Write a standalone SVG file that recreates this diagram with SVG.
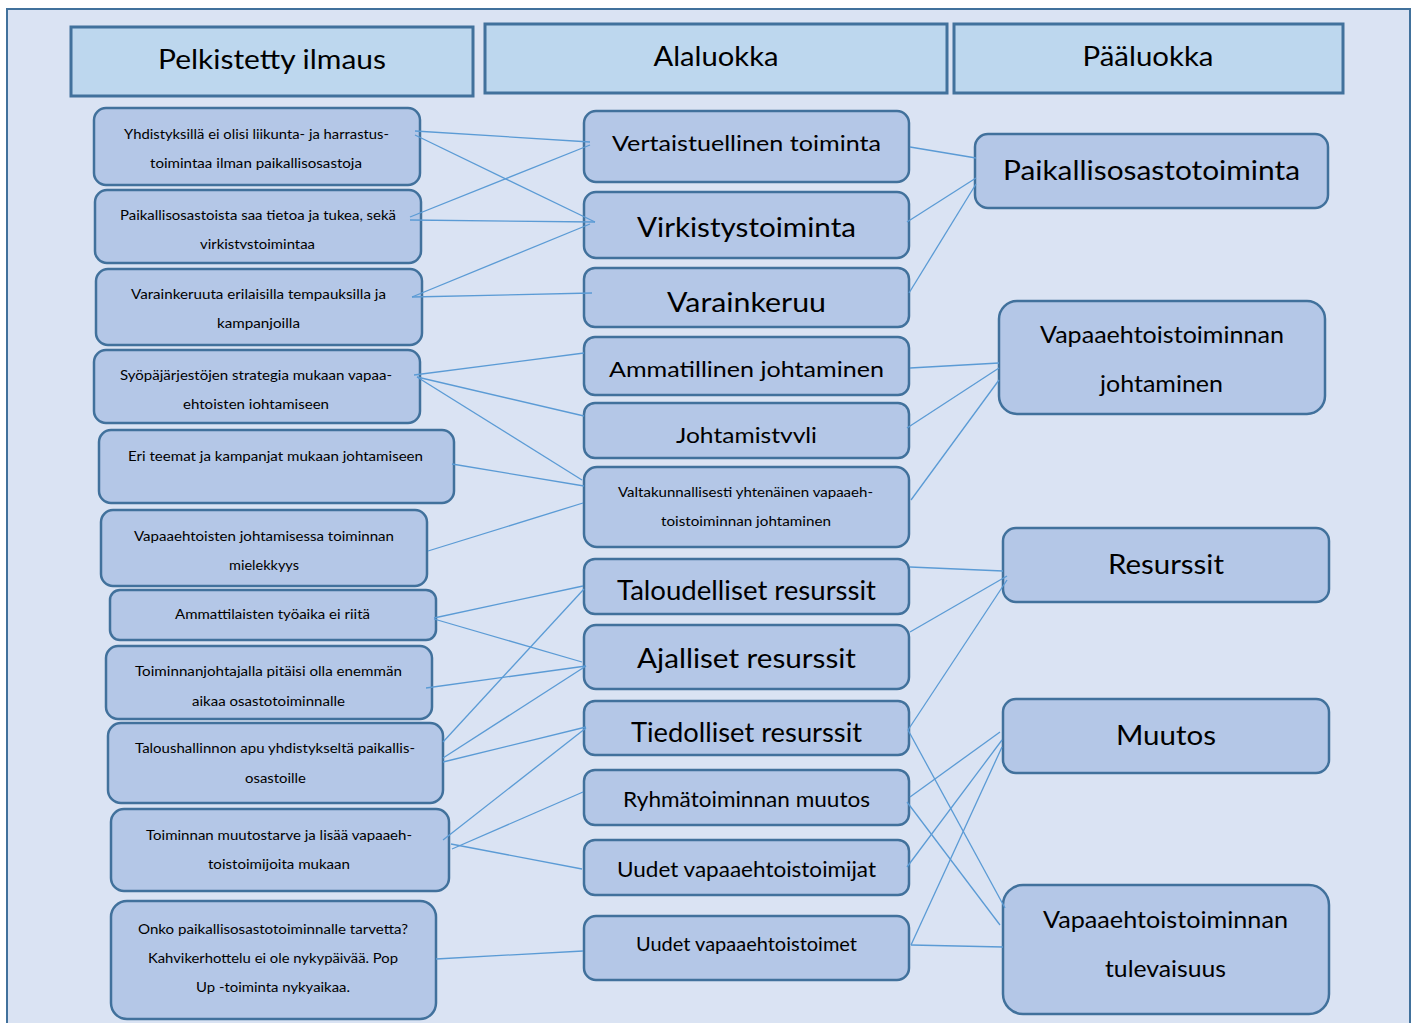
<svg xmlns="http://www.w3.org/2000/svg" width="1416" height="1023" viewBox="0 0 1416 1023">
<style>
text{font-family:"Lato","Open Sans","Liberation Sans",sans-serif;fill:#000;text-anchor:middle}
.hdr{fill:#bdd7ee;stroke:#41719c;stroke-width:3}
.nd{fill:#b4c7e7;stroke:#41719c;stroke-width:2.5}
.s{font-size:13.5px}
.m{font-size:22px}
.l{font-size:27px}
.h{font-size:27px}
#connectors line{stroke:#5b9bd5;stroke-width:1.3;fill:none}
</style>
<defs>
<clipPath id="c2"><rect x="95" y="190" width="326" height="59"/></clipPath>
<clipPath id="c4"><rect x="94" y="350" width="326" height="59"/></clipPath>
<clipPath id="c5"><rect x="584" y="403" width="325" height="40"/></clipPath>
</defs>
<rect x="7" y="9" width="1403" height="1030" fill="#dae3f3" stroke="#41719c" stroke-width="2"/>
<g id="header-pelkistetty"><rect class="hdr" x="71" y="27" width="402" height="69"/><text class="h" x="272" y="69" textLength="228" lengthAdjust="spacingAndGlyphs">Pelkistetty ilmaus</text></g>
<g id="header-alaluokka"><rect class="hdr" x="485" y="24" width="462" height="69"/><text class="h" x="716" y="66" textLength="125" lengthAdjust="spacingAndGlyphs">Alaluokka</text></g>
<g id="header-paaluokka"><rect class="hdr" x="954" y="24" width="389" height="69"/><text class="h" x="1148" y="66" textLength="131" lengthAdjust="spacingAndGlyphs">Pääluokka</text></g>

<g id="l1"><rect class="nd" x="94" y="108" width="326" height="77" rx="12"/><text class="s" x="256.5" y="139" textLength="265" lengthAdjust="spacingAndGlyphs">Yhdistyksillä ei olisi liikunta- ja harrastus-</text><text class="s" x="256" y="168" textLength="212" lengthAdjust="spacingAndGlyphs">toimintaa ilman paikallisosastoja</text></g>
<g id="l2"><rect class="nd" x="95" y="190" width="326" height="73" rx="12"/><text class="s" x="258" y="220" textLength="276" lengthAdjust="spacingAndGlyphs">Paikallisosastoista saa tietoa ja tukea, sekä</text><text class="s" x="257.5" y="249" textLength="115" lengthAdjust="spacingAndGlyphs" clip-path="url(#c2)">virkistystoimintaa</text></g>
<g id="l3"><rect class="nd" x="96" y="269" width="326" height="76" rx="12"/><text class="s" x="258.5" y="299" textLength="255" lengthAdjust="spacingAndGlyphs">Varainkeruuta erilaisilla tempauksilla ja</text><text class="s" x="258.5" y="328" textLength="83" lengthAdjust="spacingAndGlyphs">kampanjoilla</text></g>
<g id="l4"><rect class="nd" x="94" y="350" width="326" height="73" rx="12"/><text class="s" x="256" y="380" textLength="272" lengthAdjust="spacingAndGlyphs">Syöpäjärjestöjen strategia mukaan vapaa-</text><text class="s" x="256" y="409" textLength="146" lengthAdjust="spacingAndGlyphs" clip-path="url(#c4)">ehtoisten johtamiseen</text></g>
<g id="l5"><rect class="nd" x="99" y="430" width="355" height="73" rx="12"/><text class="s" x="275.5" y="461" textLength="295" lengthAdjust="spacingAndGlyphs">Eri teemat ja kampanjat mukaan johtamiseen</text></g>
<g id="l6"><rect class="nd" x="101" y="510" width="326" height="76" rx="12"/><text class="s" x="264" y="541" textLength="260" lengthAdjust="spacingAndGlyphs">Vapaaehtoisten johtamisessa toiminnan</text><text class="s" x="264" y="570" textLength="70" lengthAdjust="spacingAndGlyphs">mielekkyys</text></g>
<g id="l7"><rect class="nd" x="110" y="590" width="326" height="50" rx="10"/><text class="s" x="272.5" y="619" textLength="195" lengthAdjust="spacingAndGlyphs">Ammattilaisten työaika ei riitä</text></g>
<g id="l8"><rect class="nd" x="106" y="646" width="326" height="73" rx="12"/><text class="s" x="268.5" y="676" textLength="267" lengthAdjust="spacingAndGlyphs">Toiminnanjohtajalla pitäisi olla enemmän</text><text class="s" x="268.5" y="706" textLength="153" lengthAdjust="spacingAndGlyphs">aikaa osastotoiminnalle</text></g>
<g id="l9"><rect class="nd" x="108" y="723" width="335" height="80" rx="13"/><text class="s" x="275" y="753" textLength="280" lengthAdjust="spacingAndGlyphs">Taloushallinnon apu yhdistykseltä paikallis-</text><text class="s" x="275.5" y="783" textLength="61" lengthAdjust="spacingAndGlyphs">osastoille</text></g>
<g id="l10"><rect class="nd" x="111" y="809" width="338" height="82" rx="13"/><text class="s" x="279" y="840" textLength="266" lengthAdjust="spacingAndGlyphs">Toiminnan muutostarve ja lisää vapaaeh-</text><text class="s" x="279" y="869" textLength="142" lengthAdjust="spacingAndGlyphs">toistoimijoita mukaan</text></g>
<g id="l11"><rect class="nd" x="111" y="901" width="325" height="118" rx="16"/><text class="s" x="273" y="934" textLength="270" lengthAdjust="spacingAndGlyphs">Onko paikallisosastotoiminnalle tarvetta?</text><text class="s" x="273" y="963" textLength="250" lengthAdjust="spacingAndGlyphs">Kahvikerhottelu ei ole nykypäivää. Pop</text><text class="s" x="273" y="992" textLength="154" lengthAdjust="spacingAndGlyphs">Up -toiminta nykyaikaa.</text></g>

<g id="m1"><rect class="nd" x="584" y="111" width="325" height="71" rx="12"/><text class="m" x="746.5" y="151" textLength="269" lengthAdjust="spacingAndGlyphs">Vertaistuellinen toiminta</text></g>
<g id="m2"><rect class="nd" x="584" y="192" width="325" height="66" rx="12"/><text class="l" x="746.5" y="237" textLength="219" lengthAdjust="spacingAndGlyphs">Virkistystoiminta</text></g>
<g id="m3"><rect class="nd" x="584" y="268" width="325" height="59" rx="11"/><text class="l" x="746.5" y="312" textLength="159" lengthAdjust="spacingAndGlyphs">Varainkeruu</text></g>
<g id="m4"><rect class="nd" x="584" y="337" width="325" height="58" rx="11"/><text class="m" x="746.5" y="377" textLength="275" lengthAdjust="spacingAndGlyphs">Ammatillinen johtaminen</text></g>
<g id="m5"><rect class="nd" x="584" y="403" width="325" height="55" rx="11"/><text class="m" x="746.5" y="443" textLength="141" lengthAdjust="spacingAndGlyphs" clip-path="url(#c5)">Johtamistyyli</text></g>
<g id="m6"><rect class="nd" x="584" y="467" width="325" height="80" rx="13"/><text class="s" x="745.5" y="497" textLength="255" lengthAdjust="spacingAndGlyphs">Valtakunnallisesti yhtenäinen vapaaeh-</text><text class="s" x="746" y="526" textLength="170" lengthAdjust="spacingAndGlyphs">toistoiminnan johtaminen</text></g>
<g id="m7"><rect class="nd" x="584" y="559" width="325" height="55" rx="11"/><text class="l" x="746.5" y="600" textLength="259" lengthAdjust="spacingAndGlyphs">Taloudelliset resurssit</text></g>
<g id="m8"><rect class="nd" x="584" y="625" width="325" height="64" rx="12"/><text class="l" x="746.5" y="668" textLength="219" lengthAdjust="spacingAndGlyphs">Ajalliset resurssit</text></g>
<g id="m9"><rect class="nd" x="584" y="701" width="325" height="54" rx="11"/><text class="l" x="746.5" y="742" textLength="231" lengthAdjust="spacingAndGlyphs">Tiedolliset resurssit</text></g>
<g id="m10"><rect class="nd" x="584" y="770" width="325" height="55" rx="11"/><text class="m" x="746.5" y="807" textLength="247" lengthAdjust="spacingAndGlyphs">Ryhmätoiminnan muutos</text></g>
<g id="m11"><rect class="nd" x="584" y="840" width="325" height="55" rx="11"/><text class="m" x="746.5" y="877" textLength="259" lengthAdjust="spacingAndGlyphs">Uudet vapaaehtoistoimijat</text></g>
<g id="m12"><rect class="nd" x="584" y="916" width="325" height="64" rx="12"/><text class="m" x="746.5" y="951" textLength="221" lengthAdjust="spacingAndGlyphs" style="font-size:20px">Uudet vapaaehtoistoimet</text></g>

<g id="r1"><rect class="nd" x="975" y="134" width="353" height="74" rx="13"/><text class="l" x="1151.5" y="180" textLength="297" lengthAdjust="spacingAndGlyphs">Paikallisosastotoiminta</text></g>
<g id="r2"><rect class="nd" x="999" y="301" width="326" height="113" rx="18"/><text x="1162" y="343" style="font-size:24px" textLength="244" lengthAdjust="spacingAndGlyphs">Vapaaehtoistoiminnan</text><text x="1161.5" y="392" style="font-size:24px" textLength="123" lengthAdjust="spacingAndGlyphs">johtaminen</text></g>
<g id="r3"><rect class="nd" x="1003" y="528" width="326" height="74" rx="13"/><text class="l" x="1166" y="574" textLength="116" lengthAdjust="spacingAndGlyphs">Resurssit</text></g>
<g id="r4"><rect class="nd" x="1003" y="699" width="326" height="74" rx="13"/><text class="l" x="1166" y="745" textLength="100" lengthAdjust="spacingAndGlyphs">Muutos</text></g>
<g id="r5"><rect class="nd" x="1003" y="885" width="326" height="129" rx="20"/><text x="1165.5" y="928" style="font-size:24px" textLength="245" lengthAdjust="spacingAndGlyphs">Vapaaehtoistoiminnan</text><text x="1165.5" y="977" style="font-size:24px" textLength="121" lengthAdjust="spacingAndGlyphs">tulevaisuus</text></g>

<g id="connectors">
<line x1="415" y1="131" x2="590" y2="142"/>
<line x1="415" y1="135" x2="595" y2="222"/>
<line x1="410" y1="217" x2="590" y2="145"/>
<line x1="410" y1="220" x2="595" y2="222"/>
<line x1="412" y1="297" x2="590" y2="224"/>
<line x1="412" y1="297" x2="592" y2="293"/>
<line x1="414" y1="375" x2="584" y2="353"/>
<line x1="417" y1="377" x2="584" y2="416"/>
<line x1="417" y1="377" x2="582" y2="480"/>
<line x1="452" y1="464" x2="584" y2="486"/>
<line x1="428" y1="551" x2="583" y2="503"/>
<line x1="434" y1="618" x2="583" y2="586"/>
<line x1="434" y1="619" x2="582" y2="662"/>
<line x1="426" y1="688" x2="586" y2="666"/>
<line x1="443" y1="742" x2="584" y2="589"/>
<line x1="443" y1="758" x2="586" y2="666"/>
<line x1="443" y1="762" x2="586" y2="727"/>
<line x1="443" y1="840" x2="586" y2="728"/>
<line x1="452" y1="849" x2="583" y2="792"/>
<line x1="451" y1="844" x2="582" y2="869"/>
<line x1="436" y1="959" x2="583" y2="951"/>
<line x1="910" y1="147" x2="976" y2="158"/>
<line x1="907" y1="222" x2="976" y2="178"/>
<line x1="909" y1="293" x2="976" y2="184"/>
<line x1="910" y1="368" x2="999" y2="363"/>
<line x1="907" y1="428" x2="999" y2="368"/>
<line x1="911" y1="500" x2="999" y2="380"/>
<line x1="910" y1="567" x2="1003" y2="571"/>
<line x1="910" y1="632" x2="1007" y2="576"/>
<line x1="908" y1="730" x2="1007" y2="580"/>
<line x1="908" y1="730" x2="1005" y2="908"/>
<line x1="910" y1="797" x2="1000" y2="732"/>
<line x1="907" y1="802" x2="1000" y2="925"/>
<line x1="907" y1="867" x2="1002" y2="740"/>
<line x1="911" y1="945" x2="1002" y2="747"/>
<line x1="911" y1="945" x2="1003" y2="947"/>
</g>
</svg>
